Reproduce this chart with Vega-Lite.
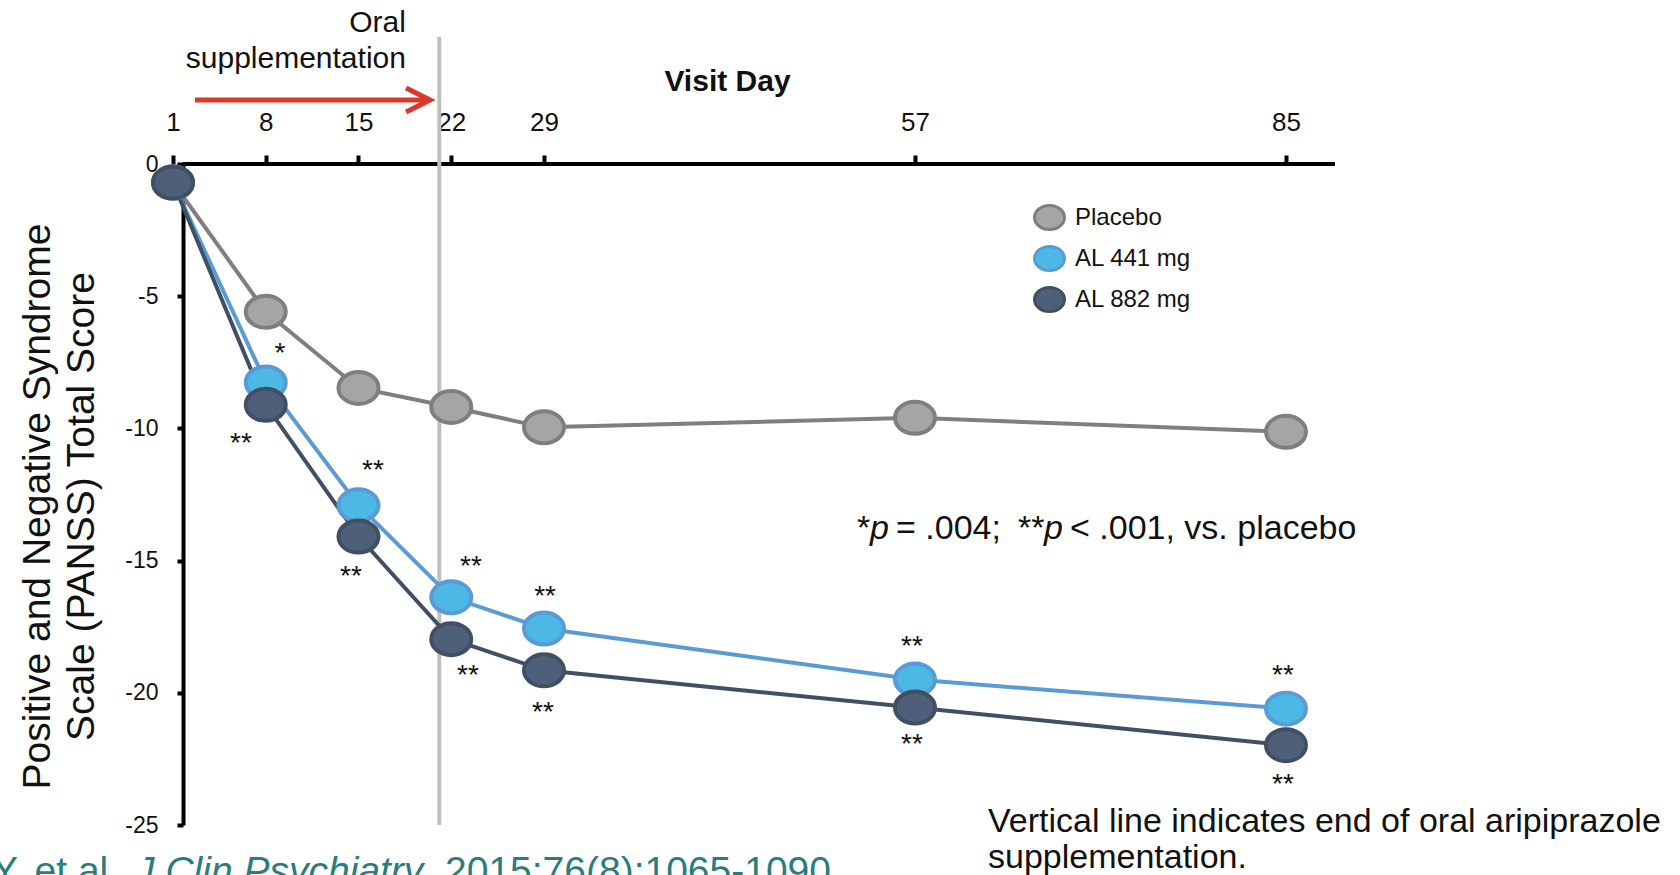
{
  "$schema": "https://vega.github.io/schema/vega-lite/v6.json",
  "width": 1162,
  "height": 661,
  "autosize": {"type": "none"},
  "padding": {"left": 173, "top": 164, "right": 345, "bottom": 50},
  "background": "white",
  "config": {"font": "Liberation Sans", "view": {"stroke": null}, "axis": {"grid": false},
    "legend": {"title": null, "orient": "none", "legendX": 860, "legendY": 37, "labelFontSize": 24,
      "labelColor": "#111111", "symbolType": "M-1,0A1,0.8,0,1,1,1,0A1,0.8,0,1,1,-1,0Z",
      "symbolSize": 900, "symbolStrokeWidth": 3, "rowPadding": 4, "labelOffset": 9, "padding": 0}},
  "datasets": {
    "scores": [
      {"series": "Placebo", "day": 1, "score": -0.7},
      {"series": "Placebo", "day": 8, "score": -5.59},
      {"series": "Placebo", "day": 15, "score": -8.47},
      {"series": "Placebo", "day": 22, "score": -9.19},
      {"series": "Placebo", "day": 29, "score": -9.96},
      {"series": "Placebo", "day": 57, "score": -9.6},
      {"series": "Placebo", "day": 85, "score": -10.13},
      {"series": "AL 441 mg", "day": 1, "score": -0.7},
      {"series": "AL 441 mg", "day": 8, "score": -8.26},
      {"series": "AL 441 mg", "day": 15, "score": -12.91},
      {"series": "AL 441 mg", "day": 22, "score": -16.39},
      {"series": "AL 441 mg", "day": 29, "score": -17.57},
      {"series": "AL 441 mg", "day": 57, "score": -19.5},
      {"series": "AL 441 mg", "day": 85, "score": -20.6},
      {"series": "AL 882 mg", "day": 1, "score": -0.7},
      {"series": "AL 882 mg", "day": 8, "score": -9.11},
      {"series": "AL 882 mg", "day": 15, "score": -14.09},
      {"series": "AL 882 mg", "day": 22, "score": -17.97},
      {"series": "AL 882 mg", "day": 29, "score": -19.15},
      {"series": "AL 882 mg", "day": 57, "score": -20.56},
      {"series": "AL 882 mg", "day": 85, "score": -21.98}
    ],
    "stars": [
      {"day": 9.08, "score": -6.88, "label": "*"},
      {"day": 6.13, "score": -10.28, "label": "**"},
      {"day": 16.09, "score": -11.3, "label": "**"},
      {"day": 14.43, "score": -15.3, "label": "**"},
      {"day": 23.49, "score": -14.93, "label": "**"},
      {"day": 23.26, "score": -19.08, "label": "**"},
      {"day": 29.08, "score": -16.06, "label": "**"},
      {"day": 28.92, "score": -20.45, "label": "**"},
      {"day": 56.77, "score": -17.95, "label": "**"},
      {"day": 56.77, "score": -21.69, "label": "**"},
      {"day": 84.77, "score": -19.05, "label": "**"},
      {"day": 84.77, "score": -23.17, "label": "**"}
    ],
    "xline": [{"day": 1.75, "day2": 88.7, "score": 0}],
    "vline": [{"day": 21.1, "score": 4.8, "score2": -25}],
    "arrow": [{"day": 2.66, "day2": 20.0, "score": 2.42}],
    "arrowhead": [{"day": 20.4, "score": 2.42}],
    "oral": [{"day": 18.58, "score": 4.99, "label": "Oral\nsupplementation"}],
    "pnormal": [
      {"day": 52.62, "score": -14.17, "label": "*"},
      {"day": 55.57, "score": -14.17, "label": "= .004;"},
      {"day": 64.77, "score": -14.17, "label": "**"},
      {"day": 68.7, "score": -14.17, "label": "< .001, vs. placebo"}
    ],
    "pitalic": [
      {"day": 53.6, "score": -14.17, "label": "p"},
      {"day": 66.74, "score": -14.17, "label": "p"}
    ],
    "footnote": [{"day": 62.51, "score": -25.25, "label": "Vertical line indicates end of oral aripiprazole\nsupplementation."}],
    "citenormal": [
      {"day": -25.26, "score": -27.25, "label": "Meltzer HY, et al."},
      {"day": 21.53, "score": -27.25, "label": "2015;76(8):1065-1090."}
    ],
    "citeitalic": [{"day": -1.86, "score": -27.25, "label": "J Clin Psychiatry."}]
  },
  "encoding": {
    "x": {
      "field": "day", "type": "quantitative",
      "scale": {"domain": [1, 88.7], "nice": false, "zero": false},
      "axis": {
        "orient": "top", "values": [1, 8, 15, 22, 29, 57, 85], "domain": false,
        "title": "Visit Day", "titleFontSize": 30, "titleFontWeight": "bold", "titleColor": "#111111",
        "titleX": 554, "titleY": -83, "titleBaseline": "middle", "titleAlign": "center",
        "labelFontSize": 26, "labelColor": "#111111", "labelPadding": 20, "labelFlush": false,
        "tickSize": 9, "tickWidth": 4, "tickColor": "black"
      }
    },
    "y": {
      "field": "score", "type": "quantitative",
      "scale": {"domain": [-25, 0], "nice": false, "zero": false},
      "axis": {
        "values": [0, -5, -10, -15, -20, -25],
        "labelExpr": "datum.value == 0 ? '0' : '-' + abs(datum.value)",
        "labelFontSize": 23, "labelColor": "#111111", "labelPadding": 19,
        "tickSize": 6, "tickWidth": 4, "tickColor": "black", "domainColor": "black", "domainWidth": 4,
        "offset": -10,
        "title": ["Positive and Negative Syndrome", "Scale (PANSS) Total Score"],
        "titleFontSize": 39, "titleFontWeight": "normal", "titleLineHeight": 44, "titleColor": "#111111",
        "titlePadding": 23, "titleY": 342
      }
    }
  },
  "layer": [
    {
      "data": {"name": "xline"},
      "mark": {"type": "rule", "color": "black", "strokeWidth": 4},
      "encoding": {"x2": {"field": "day2"}}
    },
    {
      "data": {"name": "vline"},
      "mark": {"type": "rule", "color": "#bfbfbf", "strokeWidth": 4},
      "encoding": {"y2": {"field": "score2"}}
    },
    {
      "data": {"name": "scores"},
      "mark": {"type": "line", "strokeWidth": 4},
      "encoding": {
        "stroke": {"field": "series", "type": "nominal",
          "scale": {"domain": ["Placebo", "AL 441 mg", "AL 882 mg"], "range": ["#7f7f7f", "#5b9bd5", "#414f64"]}}
      }
    },
    {
      "data": {"name": "scores"},
      "mark": {"type": "point", "filled": true, "opacity": 1, "size": 1600, "strokeWidth": 4,
        "shape": "M-1,0A1,0.8,0,1,1,1,0A1,0.8,0,1,1,-1,0Z"},
      "encoding": {
        "fill": {"field": "series", "type": "nominal",
          "scale": {"domain": ["Placebo", "AL 441 mg", "AL 882 mg"], "range": ["#a5a5a5", "#4bb8e6", "#4e6079"]}},
        "stroke": {"field": "series", "type": "nominal"}
      }
    },
    {
      "data": {"name": "arrow"},
      "mark": {"type": "rule", "color": "#d9392b", "strokeWidth": 5},
      "encoding": {"x2": {"field": "day2"}}
    },
    {
      "data": {"name": "arrowhead"},
      "mark": {"type": "point", "filled": false, "opacity": 1, "shape": "M-2,-1L0,0L-2,1", "size": 576,
        "stroke": "#d9392b", "strokeWidth": 5, "strokeJoin": "miter"},
      "encoding": {}
    },
    {
      "data": {"name": "oral"},
      "mark": {"type": "text", "align": "right", "baseline": "alphabetic", "fontSize": 30, "lineBreak": "\n",
        "lineHeight": 36, "color": "#111111"},
      "encoding": {"text": {"field": "label"}}
    },
    {
      "data": {"name": "stars"},
      "mark": {"type": "text", "align": "center", "baseline": "alphabetic", "fontSize": 28, "dy": 16, "color": "#111111"},
      "encoding": {"text": {"field": "label"}}
    },
    {
      "data": {"name": "pnormal"},
      "mark": {"type": "text", "align": "left", "baseline": "alphabetic", "fontSize": 34, "color": "#111111"},
      "encoding": {"text": {"field": "label"}}
    },
    {
      "data": {"name": "pitalic"},
      "mark": {"type": "text", "align": "left", "baseline": "alphabetic", "fontSize": 34, "fontStyle": "italic", "color": "#111111"},
      "encoding": {"text": {"field": "label"}}
    },
    {
      "data": {"name": "footnote"},
      "mark": {"type": "text", "align": "left", "baseline": "alphabetic", "fontSize": 34, "lineBreak": "\n",
        "lineHeight": 36, "color": "#111111"},
      "encoding": {"text": {"field": "label"}}
    },
    {
      "data": {"name": "citenormal"},
      "mark": {"type": "text", "align": "left", "baseline": "alphabetic", "fontSize": 39, "color": "#2a7d7d"},
      "encoding": {"text": {"field": "label"}}
    },
    {
      "data": {"name": "citeitalic"},
      "mark": {"type": "text", "align": "left", "baseline": "alphabetic", "fontSize": 39, "fontStyle": "italic", "color": "#2a7d7d"},
      "encoding": {"text": {"field": "label"}}
    }
  ]
}
